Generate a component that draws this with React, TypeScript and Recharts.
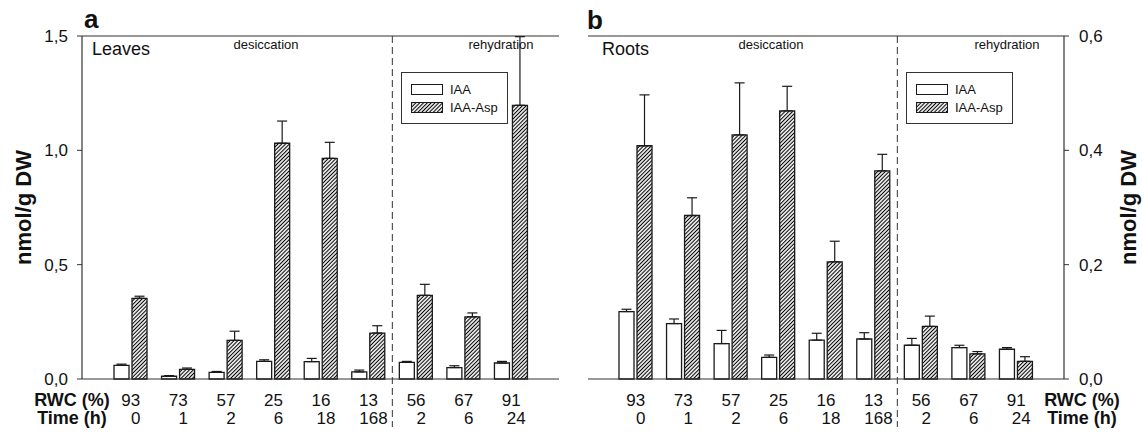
import React from 'react';
import { BarChart, Bar, XAxis, YAxis, ErrorBar, ReferenceLine, Legend, Label } from 'recharts';

const FONT = '"Liberation Sans", Arial, Helvetica, sans-serif';
const INK = '#1a1a1a';

// categories (shared by both panels)
const rwc = ['93', '73', '57', '25', '16', '13', '56', '67', '91'];
const timeH = ['0', '1', '2', '6', '18', '168', '2', '6', '24'];

// panel a - leaves
const leavesIaa = [0.06, 0.012, 0.029, 0.077, 0.076, 0.031, 0.073, 0.05, 0.07];
const leavesIaaErr = [0.005, 0.003, 0.004, 0.007, 0.014, 0.008, 0.004, 0.008, 0.007];
const leavesAsp = [0.353, 0.042, 0.169, 1.031, 0.965, 0.201, 0.366, 0.272, 1.197];
const leavesAspErr = [0.009, 0.006, 0.04, 0.097, 0.07, 0.032, 0.048, 0.017, 0.3];

// panel b - roots
const rootsIaa = [0.118, 0.097, 0.062, 0.038, 0.068, 0.07, 0.059, 0.055, 0.052];
const rootsIaaErr = [0.004, 0.008, 0.023, 0.004, 0.012, 0.011, 0.012, 0.004, 0.003];
const rootsAsp = [0.408, 0.286, 0.427, 0.469, 0.205, 0.364, 0.092, 0.044, 0.031];
const rootsAspErr = [0.089, 0.031, 0.091, 0.043, 0.036, 0.029, 0.018, 0.004, 0.008];

const leavesTicks = [0, 0.5, 1, 1.5];
const rootsTicks = [0, 0.2, 0.4, 0.6];

// one-sided (upward) error bars
const buildRows = (iaa: number[], iaaErr: number[], asp: number[], aspErr: number[]) =>
    rwc.map((r, i) => ({
        rwc: r,
        time: timeH[i],
        iaa: iaa[i],
        iaaErr: [0, iaaErr[i]],
        asp: asp[i],
        aspErr: [0, aspErr[i]],
    }));

const leavesData = buildRows(leavesIaa, leavesIaaErr, leavesAsp, leavesAspErr);
const rootsData = buildRows(rootsIaa, rootsIaaErr, rootsAsp, rootsAspErr);

const fmt = (v: number) => v.toFixed(1).replace('.', ',');

const HatchDef = ({ id }: { id: string }) => (
    <pattern id={id} patternUnits="userSpaceOnUse" width={2.7} height={2.7} patternTransform="rotate(45)">
        <rect width={2.7} height={2.7} fill="#fff" />
        <line x1={1.35} y1={0} x2={1.35} y2={2.7} stroke="#000" strokeWidth={1.1} />
    </pattern>
);

// x axis tick: RWC on first row, time on second row
const RwcTimeTick = ({ x, y, payload }: any) => {
    const idx = rwc.indexOf(String(payload.value));
    return (
        <g>
            <text x={x} y={y + 27} textAnchor="middle" fontSize={17} fontFamily={FONT} fill="#111">
                {payload.value}
            </text>
            <text x={x + 5} y={y + 45} textAnchor="middle" fontSize={17} fontFamily={FONT} fill="#111">
                {timeH[idx]}
            </text>
        </g>
    );
};

const makeLegend = (patternId: string) => ({ payload }: any) => (
    <div style={{
        width: 107,
        height: 52,
        border: '1px solid #333',
        boxSizing: 'border-box',
        background: '#fff',
        position: 'relative',
        fontFamily: FONT,
        fontSize: 13,
        color: '#111'
    }}>
        {(payload || []).map((entry: any, i: number) => (
            <div key={i} style={{ position: 'absolute', left: 9, top: 11 + i * 18, height: 11, display: 'flex', alignItems: 'center' }}>
                <svg width={32} height={11} style={{ display: 'block' }}>
                    <defs><HatchDef id={patternId} /></defs>
                    <rect x={0.5} y={0.5} width={31} height={10}
                        fill={entry.dataKey === 'asp' ? `url(#${patternId})` : '#fff'}
                        stroke={INK} strokeWidth={1} />
                </svg>
                <span style={{ marginLeft: 7, lineHeight: '11px' }}>{entry.value}</span>
            </div>
        ))}
    </div>
);

const dashedShape = (p: any) => (
    <line
        x1={p.x1}
        x2={p.x2}
        y1={Math.min(p.y1, p.y2)}
        y2={Math.max(p.y1, p.y2) + 48}
        stroke="#333"
        strokeWidth={1}
        strokeDasharray="7 4"
    />
);

const tickStyle = { fontSize: 17, fontFamily: FONT, fill: '#111' };
const yLabelStyle = { fontSize: 22, fontWeight: 700, fontFamily: FONT, fill: '#111', textAnchor: 'middle' as const };

const Panel = ({ data, ticks, hatchId, side }: any) => {
    const isLeft = side === 'left';
    return (
        <BarChart
            width={isLeft ? 570 : 572}
            height={433}
            data={data}
            margin={isLeft ? { top: 36, right: 11, bottom: 0, left: 0 } : { top: 36, right: 0, bottom: 0, left: 18 }}
            barGap={3}
        >
            <defs>
                <HatchDef id={hatchId} />
            </defs>
            <XAxis
                dataKey="rwc"
                height={54}
                padding={isLeft ? { left: 25, right: 24 } : { left: 24, right: 24 }}
                axisLine={{ stroke: '#333', strokeWidth: 1.2 }}
                tickLine={false}
                tickSize={0}
                tickMargin={0}
                interval={0}
                tick={<RwcTimeTick />}
            />
            <YAxis
                orientation={isLeft ? 'left' : 'right'}
                width={isLeft ? 82 : 78}
                domain={[0, ticks[ticks.length - 1]]}
                ticks={ticks}
                tickFormatter={fmt}
                axisLine={{ stroke: '#333', strokeWidth: 1.2 }}
                tickLine={{ stroke: '#333' }}
                tickSize={5}
                tickMargin={isLeft ? 9 : 10}
                tick={tickStyle}
            >
                <Label
                    value="nmol/g DW"
                    angle={-90}
                    position={isLeft ? 'insideLeft' : 'insideRight'}
                    offset={isLeft ? 23 : 14}
                    style={yLabelStyle}
                />
            </YAxis>
            <YAxis
                yAxisId="frame"
                orientation={isLeft ? 'right' : 'left'}
                width={0}
                domain={[0, 1]}
                tick={false}
                tickLine={false}
                axisLine={{ stroke: '#333', strokeWidth: 1.2 }}
            />
            <ReferenceLine y={ticks[ticks.length - 1]} stroke="#333" strokeWidth={1.2} />
            <ReferenceLine x="56" position="start" shape={dashedShape} />
            <Legend
                layout="vertical"
                align="center"
                verticalAlign="middle"
                content={makeLegend(hatchId + '-lg')}
                wrapperStyle={{ left: isLeft ? 401 : 336, top: 72, width: 107, height: 52 }}
            />
            <Bar dataKey="iaa" name="IAA" fill="#fff" stroke={INK} strokeWidth={1.3} barSize={15} isAnimationActive={false}>
                <ErrorBar dataKey="iaaErr" width={5} stroke={INK} strokeWidth={1.2} direction="y" />
            </Bar>
            <Bar dataKey="asp" name="IAA-Asp" fill={`url(#${hatchId})`} stroke={INK} strokeWidth={1.3} barSize={15} isAnimationActive={false}>
                <ErrorBar dataKey="aspErr" width={5} stroke={INK} strokeWidth={1.2} direction="y" />
            </Bar>
        </BarChart>
    );
};

const App: React.FC = () => (
    <div style={{ position: 'absolute', left: 0, top: 0, width: 1142, height: 433, background: '#fff', overflow: 'hidden' }}>
        <div style={{ position: 'absolute', left: 0, top: 0 }}>
            <Panel data={leavesData} ticks={leavesTicks} hatchId="hatchLeaves" side="left" />
        </div>
        <div style={{ position: 'absolute', left: 570, top: 0 }}>
            <Panel data={rootsData} ticks={rootsTicks} hatchId="hatchRoots" side="right" />
        </div>
        <svg width={1142} height={433} style={{ position: 'absolute', left: 0, top: 0, pointerEvents: 'none' }}
            fontFamily={FONT} fill="#111">
            <text x={84} y={28} fontSize={26} fontWeight={700}>a</text>
            <text x={587} y={29} fontSize={26} fontWeight={700}>b</text>
            <text x={92} y={55} fontSize={18}>Leaves</text>
            <text x={602} y={55} fontSize={18}>Roots</text>
            <text x={266} y={49} fontSize={13} textAnchor="middle">desiccation</text>
            <text x={501} y={49} fontSize={13} textAnchor="middle">rehydration</text>
            <text x={771} y={49} fontSize={13} textAnchor="middle">desiccation</text>
            <text x={1007} y={49} fontSize={13} textAnchor="middle">rehydration</text>
            <text x={72} y={406} fontSize={18} fontWeight={700} textAnchor="middle">RWC (%)</text>
            <text x={72} y={424} fontSize={18} fontWeight={700} textAnchor="middle">Time (h)</text>
            <text x={1082} y={406} fontSize={18} fontWeight={700} textAnchor="middle">RWC (%)</text>
            <text x={1082} y={424} fontSize={18} fontWeight={700} textAnchor="middle">Time (h)</text>
        </svg>
    </div>
);

export default App;
